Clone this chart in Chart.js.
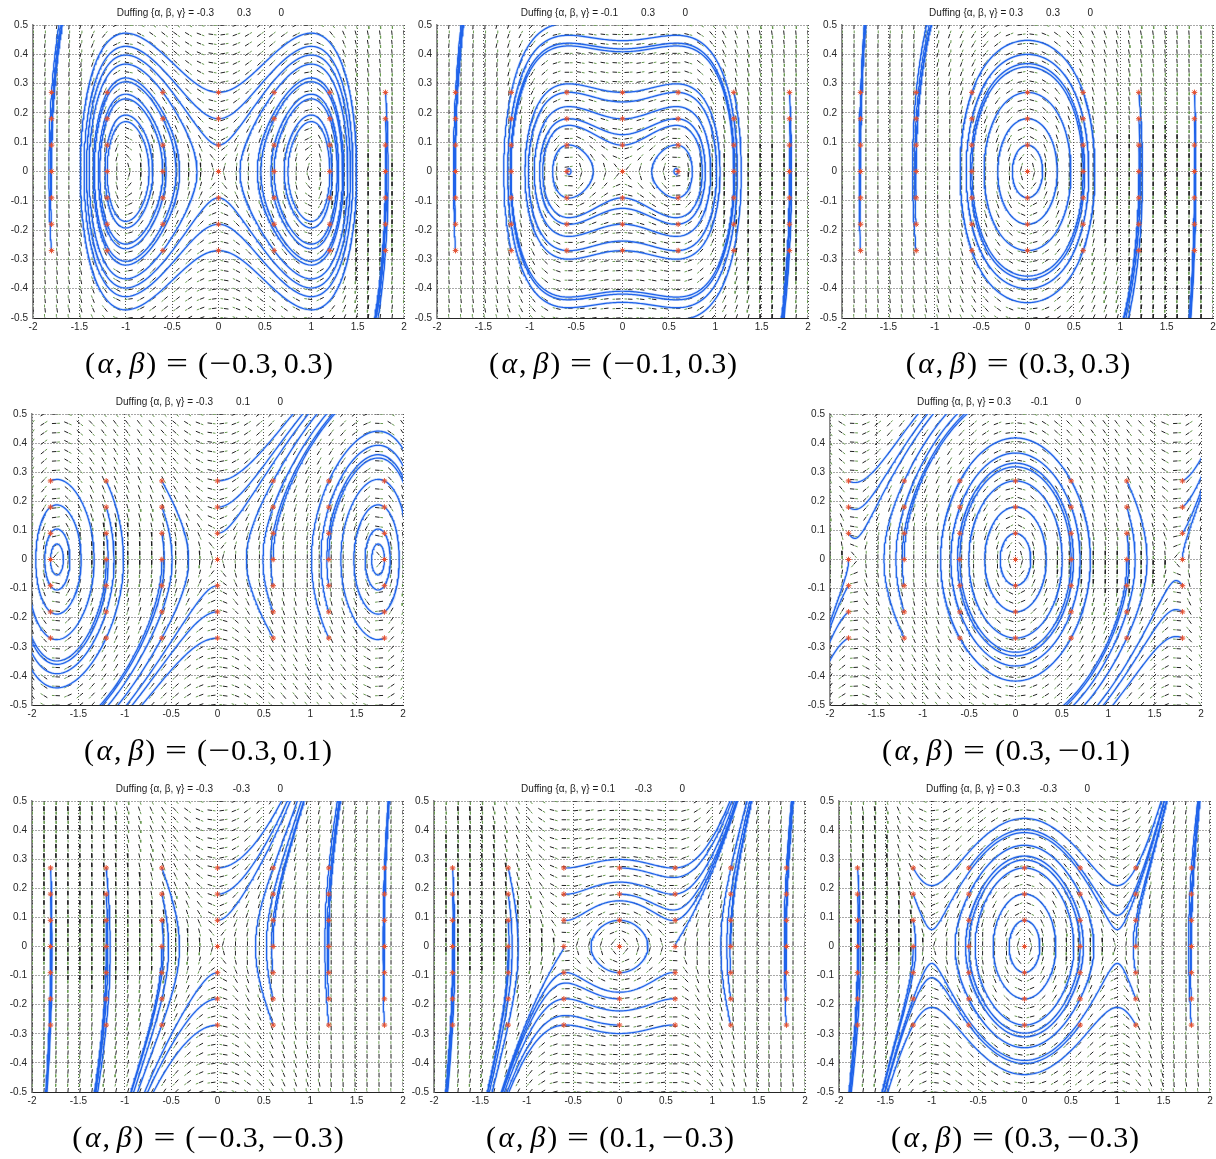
<!DOCTYPE html>
<html>
<head>
<meta charset="utf-8">
<script src="https://cdn.jsdelivr.net/npm/chart.js@4.4.1/dist/chart.umd.min.js"></script>
<style>
  html, body { margin: 0; padding: 0; background: #ffffff; }
  #page { position: relative; width: 1216px; height: 1159px; overflow: hidden; background: #ffffff; }
  #page canvas { position: absolute; }
</style>
</head>
<body>
<div id="page"></div>
<script>
// Duffing oscillator x'' + alpha*x + beta*x^3 = gamma (unforced here), one panel per parameter pair
const alphaVals = [-0.3, -0.1, 0.3, -0.3, 0.3, -0.3, 0.1, 0.3];
const betaVals  = [0.3, 0.3, 0.3, 0.1, -0.1, -0.3, -0.3, -0.3];
const gammaVals = [0, 0, 0, 0, 0, 0, 0, 0];

// initial conditions (red markers), every x0 is paired with every y0
const startX = [-1.8, -1.2, -0.6, 0, 0.6, 1.2, 1.8];
const startY = [-0.27, -0.18, -0.09, 0, 0.09, 0.18, 0.27];

// tick labels
const xTickLabels = ['-2', '-1.5', '-1', '-0.5', '0', '0.5', '1', '1.5', '2'];
const yTickLabels = ['-0.5', '-0.4', '-0.3', '-0.2', '-0.1', '0', '0.1', '0.2', '0.3', '0.4', '0.5'];

// direction-field sampling grid size
const FIELD_COLS = 32;
const FIELD_ROWS = 32;

// plot-area placement of each panel on the page
const panelBoxes = [
  { left: 33,  top: 25,  w: 371, h: 293 },
  { left: 437, top: 25,  w: 371, h: 293 },
  { left: 842, top: 25,  w: 371, h: 293 },
  { left: 32,  top: 414, w: 371, h: 291 },
  { left: 830, top: 414, w: 371, h: 291 },
  { left: 32,  top: 801, w: 371, h: 291 },
  { left: 434, top: 801, w: 371, h: 291 },
  { left: 839, top: 801, w: 371, h: 291 }
];

const Y_AXIS_W = 33;
const X_AXIS_H = 20;
const TOP_PAD = 25;
const BOTTOM_EXTRA = 75;
const RIGHT_PAD = 6;
const FIELD_LEN = 8;   // px length of a direction segment

const X_MIN = -2, X_MAX = 2, Y_MIN = -0.5, Y_MAX = 0.5;

function accel(a, b, g, x) { return g - a * x - b * x * x * x; }

function gridPositions(lo, hi, n) {
  const r = [];
  for (let i = 0; i < n; i++) r.push(lo + (hi - lo) * i / (n - 1));
  return r;
}

// short two-tone segments along the flow direction at each grid node
function buildField(a, b, g, sx, sy) {
  const xs = gridPositions(X_MIN, X_MAX, FIELD_COLS);
  const ys = gridPositions(Y_MIN, Y_MAX, FIELD_ROWS);
  const black = [], green = [];
  for (const xv of xs) {
    for (const yv of ys) {
      const px = yv * sx, py = accel(a, b, g, xv) * sy;
      const n = Math.hypot(px, py);
      if (n < 1e-9) continue;
      const dx = (px / n) * FIELD_LEN / sx;
      const dy = (py / n) * FIELD_LEN / sy;
      black.push({ x: xv - 0.5 * dx, y: yv - 0.5 * dy }, { x: xv + 0.06 * dx, y: yv + 0.06 * dy }, { x: null, y: null });
      green.push({ x: xv + 0.16 * dx, y: yv + 0.16 * dy }, { x: xv + 0.5 * dx, y: yv + 0.5 * dy }, { x: null, y: null });
    }
  }
  return { black, green };
}

// forward RK4 integration from (x0, y0); stops when the orbit leaves the window or closes
function trajectory(a, b, g, x0, y0, sx, sy) {
  const out = [{ x: x0, y: y0 }];
  const f0 = accel(a, b, g, x0);
  const vx = y0 * sx, vy = f0 * sy, n0 = Math.hypot(vx, vy);
  if (n0 < 1e-7) return out;
  const ex = vx / n0, ey = vy / n0;
  let x = x0, y = y0, t = 0, prevS = 0, maxD = 0;
  let lx = x0 * sx, ly = y0 * sy;
  const dt = 0.01;
  for (let k = 0; k < 20000; k++) {
    const k1x = y,                  k1y = accel(a, b, g, x);
    const k2x = y + 0.5 * dt * k1y, k2y = accel(a, b, g, x + 0.5 * dt * k1x);
    const k3x = y + 0.5 * dt * k2y, k3y = accel(a, b, g, x + 0.5 * dt * k2x);
    const k4x = y + dt * k3y,       k4y = accel(a, b, g, x + dt * k3x);
    x += dt * (k1x + 2 * k2x + 2 * k3x + k4x) / 6;
    y += dt * (k1y + 2 * k2y + 2 * k3y + k4y) / 6;
    t += dt;
    if (x < X_MIN - 0.02 || x > X_MAX + 0.02 || y < Y_MIN - 0.005 || y > Y_MAX + 0.005) {
      out.push({ x, y });
      break;
    }
    const px = x * sx, py = y * sy;
    const dxs = px - x0 * sx, dys = py - y0 * sy, d = Math.hypot(dxs, dys);
    if (d > maxD) maxD = d;
    const s = dxs * ex + dys * ey;
    if (t > 0.2 && prevS < 0 && s >= 0 && d < Math.max(2.5, 0.2 * maxD)) {
      out.push({ x: x0, y: y0 });
      break;
    }
    prevS = s;
    if (Math.hypot(px - lx, py - ly) >= 1.5) {
      out.push({ x, y });
      lx = px; ly = py;
    }
  }
  return out;
}

function mathNum(v) {
  const s = String(Math.abs(v));
  return v < 0 ? '\u2212' + s : s;
}

// caption pieces: text, italic flag, advance in em, alignment inside the advance box, horizontal stretch
function captionPieces(a, b) {
  const pcs = [];
  const push = (s, it, adv, align, stretch) => pcs.push({ s, it, adv, align: align || 'left', stretch: stretch || 1 });
  const num = (v) => {
    const t = mathNum(v);
    for (const ch of t) {
      if (ch === '\u2212') push(ch, false, 0.778, 'center', 1.3);
      else if (ch === '.') push(ch, false, 0.278, 'center');
      else push(ch, false, 0.5, 'center');
    }
  };
  push('(', false, 0.389, 'center');
  push('\u03B1', true, 0.64, 'center');
  push(',', false, 0.278, 'left');
  push('', false, 0.167);
  push('\u03B2', true, 0.566, 'center');
  push(')', false, 0.389, 'center');
  push('', false, 0.278);
  push('=', false, 0.778, 'center', 1.3);
  push('', false, 0.278);
  push('(', false, 0.389, 'center');
  num(a);
  push(',', false, 0.278, 'left');
  push('', false, 0.167);
  num(b);
  push(')', false, 0.389, 'center');
  return pcs;
}

const panelText = {
  id: 'panelText',
  afterDraw(chart, args, opts) {
    const ctx = chart.ctx, ca = chart.chartArea;
    ctx.save();
    // title line
    ctx.fillStyle = '#1a1a1a';
    ctx.font = '10px "Liberation Sans", Arial, sans-serif';
    ctx.textBaseline = 'middle';
    ctx.textAlign = 'right';
    const ty = ca.top - 12;
    ctx.fillText('Duffing {\u03B1, \u03B2, \u03B3} = ' + String(opts.alpha), ca.left + 181, ty);
    ctx.fillText(String(opts.beta), ca.left + 218, ty);
    ctx.fillText(String(opts.gamma), ca.left + 251, ty);

    // caption below the axes
    const em = 30;
    const pcs = captionPieces(opts.alpha, opts.beta);
    const total = pcs.reduce((acc, p) => acc + p.adv * em, 0);
    let cx = ca.left + ca.width / 2 - 9.5 - total / 2;
    const cy = ca.bottom + 47;
    ctx.fillStyle = '#000000';
    for (const p of pcs) {
      const w = p.adv * em;
      if (p.s) {
        ctx.font = (p.it ? 'italic ' : '') + '30px "Liberation Serif", "DejaVu Serif", serif';
        ctx.save();
        if (p.align === 'center') {
          ctx.textAlign = 'center';
          ctx.translate(cx + w / 2, cy);
        } else {
          ctx.textAlign = 'left';
          ctx.translate(cx, cy);
        }
        ctx.scale(p.stretch, 1);
        ctx.fillText(p.s, 0, 0);
        ctx.restore();
      }
      cx += w;
    }
    ctx.restore();
  }
};

const page = document.getElementById('page');
const tickFont = { family: '"Liberation Sans", Arial, sans-serif', size: 10 };

panelBoxes.forEach((box, p) => {
  const a = alphaVals[p], b = betaVals[p], g = gammaVals[p];
  const sx = box.w / (X_MAX - X_MIN), sy = box.h / (Y_MAX - Y_MIN);

  const cw = Y_AXIS_W + box.w + RIGHT_PAD;
  const chh = TOP_PAD + box.h + BOTTOM_EXTRA;
  const canvas = document.createElement('canvas');
  canvas.width = cw; canvas.height = chh;
  canvas.style.left = (box.left - Y_AXIS_W) + 'px';
  canvas.style.top = (box.top - TOP_PAD) + 'px';
  canvas.style.width = cw + 'px'; canvas.style.height = chh + 'px';
  page.appendChild(canvas);

  const field = buildField(a, b, g, sx, sy);
  const traj = [];
  const starts = [];
  for (const x0 of startX) {
    for (const y0 of startY) {
      starts.push({ x: x0, y: y0 });
      const seg = trajectory(a, b, g, x0, y0, sx, sy);
      for (const q of seg) traj.push(q);
      traj.push({ x: null, y: null });
    }
  }

  new Chart(canvas, {
    type: 'line',
    data: {
      datasets: [
        { data: field.black, borderColor: '#222222', borderWidth: 1, pointRadius: 0, order: 5, clip: 0 },
        { data: field.green, borderColor: '#689a50', borderWidth: 1, pointRadius: 0, order: 4, clip: 0 },
        { data: traj, borderColor: 'rgba(130,175,245,0.4)', borderWidth: 2.6, pointRadius: 0, order: 3, clip: 0 },
        { data: traj, borderColor: '#2063ea', borderWidth: 1.2, pointRadius: 0, order: 2, clip: 0 },
        { type: 'scatter', data: starts, showLine: false, pointStyle: 'star', pointRadius: 2.8,
          borderColor: '#e5502f', backgroundColor: '#e5502f', borderWidth: 1, order: 1, clip: 0 }
      ]
    },
    options: {
      responsive: false,
      devicePixelRatio: 1,
      animation: false,
      events: [],
      layout: { padding: { left: 0, right: RIGHT_PAD, top: TOP_PAD, bottom: BOTTOM_EXTRA - X_AXIS_H } },
      plugins: {
        legend: { display: false },
        tooltip: { enabled: false },
        panelText: { alpha: a, beta: b, gamma: g }
      },
      scales: {
        x: {
          type: 'linear', min: X_MIN, max: X_MAX,
          afterFit(s) { s.height = X_AXIS_H; },
          ticks: { stepSize: 0.5, autoSkip: false, maxRotation: 0, padding: 3, color: '#262626', font: tickFont,
                   callback: (v, i) => xTickLabels[i] },
          grid: { color: '#505050', lineWidth: 1, drawTicks: false },
          border: { display: true, color: '#262626', width: 1, dash: [1, 2] }
        },
        y: {
          type: 'linear', min: Y_MIN, max: Y_MAX,
          afterFit(s) { s.width = Y_AXIS_W; },
          ticks: { stepSize: 0.1, autoSkip: false, padding: 5, color: '#262626', font: tickFont,
                   callback: (v, i) => yTickLabels[i] },
          grid: { color: '#505050', lineWidth: 1, drawTicks: false },
          border: { display: true, color: '#8a8a8a', width: 1.5, dash: [1, 2] }
        }
      }
    },
    plugins: [panelText]
  });
});
</script>
</body>
</html>
